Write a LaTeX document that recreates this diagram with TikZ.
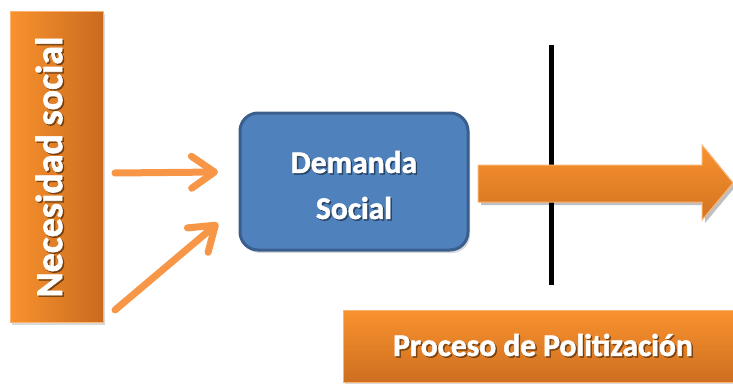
\documentclass[tikz,border=0pt]{standalone}
\usepackage{fontspec}
\setmainfont{Carlito}[BoldFeatures={FakeBold=1.6}]
\usetikzlibrary{arrows.meta,shadows}

\definecolor{naranja}{HTML}{F79646}
\definecolor{naranjaclaro}{HTML}{F9922E}
\definecolor{naranjaoscuro}{HTML}{C96B1F}
\definecolor{azul}{HTML}{4F81BD}
\definecolor{azulborde}{HTML}{3A5F8E}

\tikzset{
    caja/.style={draw=naranjaclaro!70!white, line width=1pt, inner sep=0pt,
        drop shadow={opacity=0.3, shadow xshift=2pt, shadow yshift=-3pt}},
    texto/.style={text=white, font=\bfseries\fontsize{31.5}{46}\selectfont, align=center, inner sep=0pt},
    sombra/.style={texto, text=black, opacity=0.4},
    flecha/.style={draw=naranja, line width=7pt, line cap=round, line join=round,
        -{Straight Barb[length=23pt, width=32pt, round]}}
}

\begin{document}
\begin{tikzpicture}[x=1pt, y=-1pt]
\useasboundingbox (0,0) rectangle (733,383);
% cajas
\node[caja, rectangle, minimum width=93pt, minimum height=311pt,
      left color=naranjaclaro, right color=naranjaoscuro] (necesidad) at (56.5,166.5) {};
\node[caja, rectangle, rounded corners=18pt, draw=azulborde, line width=3pt,
      fill=azul, minimum width=228pt, minimum height=137pt] (demanda) at (354,181.5) {};
\node[caja, rectangle, minimum width=392pt, minimum height=72pt,
      top color=naranjaclaro, bottom color=naranjaoscuro!90!naranjaclaro] (proceso) at (539,346) {};
% linea vertical y flecha grande
\coordinate (lineaArriba) at (551,45);
\coordinate (lineaAbajo) at (551,285);
\draw[line width=5pt] (lineaArriba) -- (lineaAbajo);
\fill[black, opacity=0.25] (481,168) -- (705,168) -- (705,148) -- (736,186) -- (705,223) -- (705,205) -- (481,205) -- cycle;
\shade[top color=naranjaclaro, bottom color=naranjaoscuro!80!naranjaclaro, draw=naranjaclaro!70!white, line width=1pt]
    (478,165) -- (702,165) -- (702,145) -- (733,183) -- (702,220) -- (702,202) -- (478,202) -- cycle;
% textos
\begin{scope}[every node/.style={texto}]
    \node[sombra, rotate=90, font=\bfseries\fontsize{38}{40}\selectfont] (necesidadSombra) at (50.5,168.5) {Necesidad social};
    \node[rotate=90, font=\bfseries\fontsize{38}{40}\selectfont] (necesidadTexto) at (49,167) {Necesidad social};
    \node[sombra] (demandaSombra) at (355.5,186.5) {Demanda\\Social};
    \node (demandaTexto) at (354,185) {Demanda\\Social};
    \node[sombra] (procesoSombra) at (544.5,346.5) {Proceso de Politización};
    \node (procesoTexto) at (543,345) {Proceso de Politización};
\end{scope}
% flechas pequenas
\coordinate (a1s) at (115,173);
\coordinate (a1e) at (218,172);
\coordinate (a2s) at (115,310);
\coordinate (a2e) at (218,223);
\draw[flecha] (a1s) -- (a1e);
\draw[flecha] (a2s) -- (a2e);
\end{tikzpicture}
\end{document}
